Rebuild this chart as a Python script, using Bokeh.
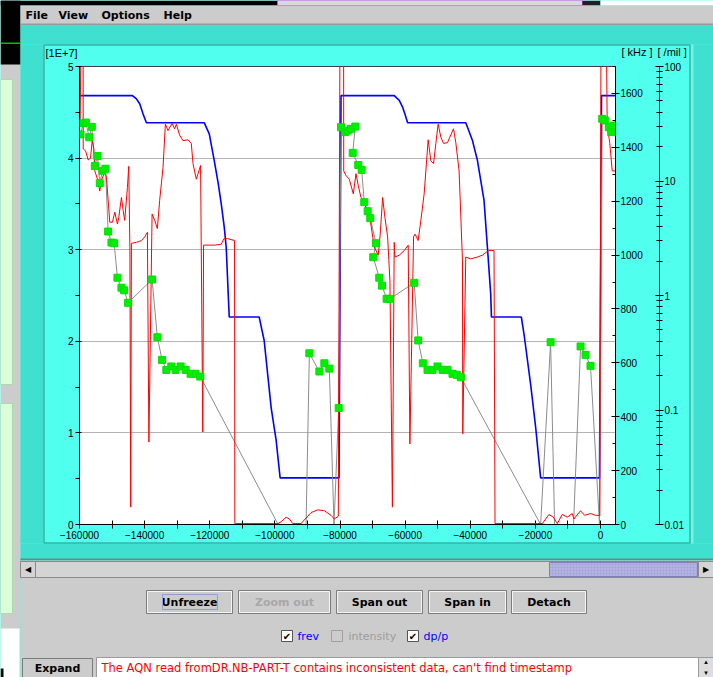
from bokeh.plotting import figure
from bokeh.models import (Range1d, LinearAxis, LogAxis, LogScale, FixedTicker,
                          BoxAnnotation, Label, BasicTickFormatter, CustomJSTickFormatter)
from bokeh.embed import file_html
from bokeh.resources import INLINE

# ---------------- data ----------------
# revolution frequency [kHz] (blue)
frev_t = [-160000, -143750, -142520, -141510, -140470, -139460,
          -121680, -120150, -118620, -117390, -116470, -115550, -114940, -114330, -114020,
          -104820, -103290, -101150, -99610, -98390,
          -80300, -79690,
          -63350, -61810, -60770, -60070, -59240,
          -41380, -39320, -37790, -35770, -34730, -33720, -33500,
          -24310, -23510, -21460, -19920, -18390,
          -310, 310, 4600]
frev_khz = [1592, 1592, 1580, 1562, 1524, 1491,
            1491, 1450, 1351, 1265, 1190, 1104, 1028, 856, 770,
            770, 683, 434, 312, 173,
            173, 1592,
            1592, 1574, 1549, 1524, 1491,
            1491, 1425, 1351, 1203, 1028, 856, 770,
            770, 708, 520, 361, 173,
            173, 1592, 1592]

# intensity [1E+7] (red)
intensity_t = [-159800, -159500, -158900, -158860, -158150, -157330, -156620, -156100, -155610,
               -155300, -154480, -153770, -153250, -152240, -151720, -150710, -149880, -149170,
               -148350, -147950, -147120, -146600, -146110, -145280, -144880, -144520, -144270,
               -144060, -142520, -140990, -139980, -139150, -138690, -137710, -136910, -136090,
               -135380, -134340, -133630, -132810, -131580, -130780, -130260, -129250, -128210,
               -126680, -125670, -125140, -124130, -122820, -122140, -121900, -120550, -118520,
               -116470, -115640, -114420, -112390, -112300, -99090, -98080, -96550, -95540,
               -94490, -92960, -91950, -90720, -88890, -86830, -84810, -82760, -81740, -80520,
               -80000, -78900, -78860, -78160, -77150, -75920, -75090, -74390, -73560, -72550,
               -71720, -70710, -69480, -68260, -67650, -66910, -66200, -65380, -64670, -63910,
               -63350, -63140, -61820, -60290, -59060, -58540, -57410, -56920, -56000, -55170,
               -54160, -52930, -52110, -51280, -50570, -49870, -49040, -48210, -46990, -45150,
               -44440, -43430, -42390, -42300, -41380, -39850, -37790, -36260, -35250, -34240,
               -32700, -32400, -19400, -17870, -15850, -14500, -13270, -11740, -10210, -8670,
               -8180, -6130, -4900, -3070, -1530, -220, 150, 1750, 2050, 2850, 3590, 4600]
intensity_v = [4.35, 5.5, 5.5, 4.10, 4.08, 3.98, 4.00, 4.19, 4.11,
               3.86, 3.77, 3.64, 3.76, 3.85, 3.79, 3.30, 3.30, 3.41,
               3.28, 3.35, 3.57, 3.43, 3.32, 3.68, 3.91, 2.99, 0.19,
               3.07, 3.08, 3.10, 3.14, 3.19, 0.90, 3.39, 3.32, 3.23,
               3.54, 3.90, 4.37, 4.30, 4.38, 4.32, 4.37, 4.25, 4.19,
               4.20, 4.16, 3.94, 3.77, 3.92, 1.01, 3.05, 3.05, 3.05,
               3.06, 3.12, 3.12, 3.10, 0.01, 0.01, 0.03, 0.08, 0.06,
               0.01, 0.01, 0.01, 0.06, 0.13, 0.16, 0.15, 0.10, 0.06, 0.09,
               5.5, 5.5, 3.86, 3.81, 3.77, 3.61, 3.83, 3.70, 3.57, 3.54,
               3.39, 3.32, 3.03, 2.94, 3.17, 3.57, 3.35, 3.14, 2.66, 0.19,
               3.08, 2.92, 2.94, 2.99, 3.05, 0.88, 3.14, 3.17, 3.10, 3.32,
               3.61, 4.20, 3.97, 3.94, 4.16, 4.37, 4.23, 4.16, 4.17, 4.32,
               4.17, 3.86, 2.88, 0.99, 2.92, 2.90, 2.92, 2.94, 2.97, 2.99,
               2.99, 0.01, 0.01, 0.01, 0.11, 0.08, 0.01, 0.11, 0.08, 0.12,
               0.06, 0.15, 0.10, 0.12, 0.10, 0.10, 5.5, 5.5, 4.37, 4.16, 3.86, 3.86]

# momentum spread dp/p [/mil] (grey line, green squares where measured)
dpp_t = [-159700, -158860, -158060, -157020, -156220, -155300, -154480, -153770, -152940,
         -152020, -151200, -150190, -149360, -148350, -147120, -146290, -145070, -137710,
         -136090, -134650, -133330, -131800, -130480, -128950, -127410, -125880, -124350,
         -122910, -99000, -90420, -89410, -86340, -84810, -83280, -81840, -80400,
         -79690, -78460, -77640, -76630, -75310, -76100, -74390, -73350, -72550,
         -71510, -70710, -68960, -69790, -67950, -67120, -65680, -64670, -57220,
         -56000, -54560, -53120, -51580, -50050, -48520, -46990, -45460, -44140,
         -42910, -18390, -15330, -14100, -8280, -6130, -4600, -3070, -310,
         520, 1320, 2540, 3280, 4080]
dpp_mil = [25.5, 32.0, 32.4, 24.1, 29.7, 13.5, 16.5, 9.57, 12.3,
           12.8, 3.62, 2.90, 2.86, 1.43, 1.17, 1.11, 0.863, 1.38,
           0.432, 0.274, 0.224, 0.240, 0.224, 0.240, 0.224, 0.207, 0.207,
           0.196, 0.01, 0.01, 0.313, 0.217, 0.256, 0.230, 0.01, 0.104,
           29.5, 26.7, 27.6, 28.6, 29.9, 17.6, 13.8, 12.5, 6.53,
           5.45, 4.73, 2.86, 2.16, 1.43, 1.22, 0.936, 0.936, 1.29,
           0.405, 0.256, 0.224, 0.224, 0.240, 0.224, 0.224, 0.207, 0.203,
           0.193, 0.01, 0.391, 0.01, 0.01, 0.359, 0.303, 0.243, 0.01,
           34.9, 33.8, 29.5, 26.7, 30.5]
dpp_marked = [1, 1, 1, 1, 1, 1, 1, 1, 1,
              1, 1, 1, 1, 1, 1, 1, 1, 1,
              1, 1, 1, 1, 1, 1, 1, 1, 1,
              1, 0, 0, 1, 1, 1, 1, 0, 1,
              1, 1, 1, 1, 1, 1, 1, 1, 1,
              1, 1, 1, 1, 1, 1, 1, 1, 1,
              1, 1, 1, 1, 1, 1, 1, 1, 1,
              1, 0, 1, 0, 0, 1, 1, 1, 0,
              1, 1, 1, 1, 1]

# axes ticks
x_major = [-160000, -140000, -120000, -100000, -80000, -60000, -40000, -20000, 0]
x_minor = [-150000, -130000, -110000, -90000, -70000, -50000, -30000, -10000]
int_major = [0, 1, 2, 3, 4, 5]
int_minor = [0.5, 1.5, 2.5, 3.5, 4.5]
khz_major = [0, 200, 400, 600, 800, 1000, 1200, 1400, 1600]
khz_minor = [100, 300, 500, 700, 900, 1100, 1300, 1500, 1700]
mil_major = [0.01, 0.1, 1, 10, 100]
mil_minor = [0.02, 0.03, 0.04, 0.05, 0.06, 0.07, 0.08, 0.09,
             0.2, 0.3, 0.4, 0.5, 0.6, 0.7, 0.8, 0.9,
             2, 3, 4, 5, 6, 7, 8, 9,
             20, 30, 40, 50, 60, 70, 80, 90]
unit_labels = ["[1E+7]", "[ kHz ]", "[ /mil ]"]

menu_items = ["File", "View", "Options", "Help"]
buttons = ["Unfreeze", "Zoom out", "Span out", "Span in", "Detach"]
checks = ["frev", "intensity", "dp/p"]
message = "The AQN read fromDR.NB-PART-T contains inconsistent data, can't find timestamp"

# ---------------- layout / style ----------------
W, H = 713, 677
FL, FT, FR, FB = 79, 66, 615, 524
CYAN = "#50ffee"
TURQ = "#40e0d0"
GRAY = "#cccccc"
TICK_FONT = "Liberation Sans"
UI_FONT = "DejaVu Sans"
ABS = {"position": "absolute", "left": "0px", "top": "0px"}

# ======== background figure: the application window around the chart ========
bg = figure(width=W, height=H, min_border=0, x_axis_type=None, y_axis_type=None,
            x_range=Range1d(0, W), y_range=Range1d(H, 0),
            output_backend="svg", toolbar_location=None, tools="",
            background_fill_color=CYAN, border_fill_color=CYAN, outline_line_color=None)
bg.styles = dict(ABS)
bg.grid.visible = False


def box(x0, y0, x1, y1, fill=None, line=None, lw=1, **kw):
    bg.add_layout(BoxAnnotation(left=x0, right=x1, top=y0, bottom=y1,
                                fill_color=fill if fill else "white",
                                fill_alpha=1 if fill else 0,
                                line_color=line if line else "black",
                                line_alpha=1 if line else 0,
                                line_width=lw, **kw))


def text(x, y, s, size="11px", color="black", font=UI_FONT, style="normal", align="left"):
    bg.add_layout(Label(x=x, y=y, text=s,
                        text_font_size=size, text_color=color, text_font=font,
                        text_font_style=style, text_align=align, text_baseline="middle"))


# left strip & top strip (other windows behind this one)
box(0, 0, 20, 677, GRAY)
box(0, 0, 277, 5, "#000000")
box(277, 0, 582, 5, "#d8d8d8", "#e040e0")
box(582, 0, 600, 5, "#202020")
box(600, 0, 713, 5, "#ffffff")
box(0, 0, 20, 64, "#000000")
box(0, 42, 20, 43.5, "#00c000")
box(0, 79, 12, 384, "#d8ffd8", "#b0d8b0")
box(0, 403, 12, 613, "#d8ffd8", "#b0d8b0")
box(0, 628, 19, 677, "#ffffff")
box(0, 668, 3, 677, "#000000")

# menu bar
box(20, 5, 713, 25, GRAY)
box(20, 23, 713, 25, "#9a9a9a")
for name, mx in zip(menu_items, [25, 58, 101, 163]):
    text(mx, 15, name, size="11px", style="bold")

# turquoise ring around the light cyan plot panel
box(20, 25, 713, 44, TURQ)
box(20, 543, 713, 560, TURQ)
box(20, 44, 43, 543, TURQ)
box(690, 44, 713, 543, TURQ)
box(690, 44, 693, 543, "#70f4e6")
box(43.5, 44.5, 689.5, 542.5, None, "#34b4a6", 1.5)
box(20, 558, 713, 560, "#5c8f8a")

# bottom grey area
box(20, 560, 713, 677, GRAY)

# scrollbar
box(20, 561, 713, 577, "#d4d4d4", "#8a8a8a")
box(20, 561, 35, 577, "#d4d4d4", "#8a8a8a")
box(698, 561, 713, 577, "#d4d4d4", "#8a8a8a")
box(549, 562, 697, 576, "#a8a8dc", "#8080b8", hatch_pattern="dot",
    hatch_color="#c8c8f0", hatch_scale=3)
text(27.5, 569, "◀", size="8px", align="center")
text(705.5, 569, "▶", size="8px", align="center")

# buttons
btn_x = [(146, 232), (238, 330), (336, 422), (428, 506), (511, 586)]
for label, (bx0, bx1) in zip(buttons, btn_x):
    box(bx0, 590, bx1, 613, GRAY, "#7c7c7c")
    box(bx0 + 1, 591, bx1 - 1, 612, None, "#f4f4f4")
    col = "#a8a8a8" if label == "Zoom out" else "black"
    text((bx0 + bx1) / 2, 601.5, label, size="11px", color=col, style="bold", align="center")
box(162, 594, 217, 609, None, "#9a9ad2")

# check boxes
chk_x = [281, 331, 407]
chk_lbl_x = [297, 348, 423]
chk_on = [True, False, True]
for label, cx, lx, on in zip(checks, chk_x, chk_lbl_x, chk_on):
    if on:
        box(cx, 630, cx + 11, 641, "#ffffff", "#555555")
        text(cx + 5.5, 635.5, "✔", size="10px", align="center")
    else:
        box(cx, 630, cx + 11, 641, GRAY, "#a0a0a0")
    text(lx, 636, label, size="11px", color="#0000ff" if on else "#9c9c9c")

# status line
box(22, 658, 92, 680, GRAY, "#7c7c7c")
text(57, 668, "Expand", size="11px", style="bold", align="center")
box(96, 657, 698, 680, "#ffffff", "#9a9a9a")
box(698, 657, 713, 677, "#dddddd", "#9a9a9a")
text(705.5, 661.5, "▴", size="7px", align="center")
text(705.5, 672.5, "▾", size="7px", align="center")
text(101, 667, message, size="11.5px", color="#ff0000")

# axis unit labels
for s, ux, uy in zip(unit_labels, [45, 621, 657], [52, 51, 51]):
    text(ux, uy, s, size="11px", font=TICK_FONT)

# ======== the chart itself ========
p = figure(frame_width=FR - FL, frame_height=FB - FT,
           min_border_left=FL, min_border_top=FT,
           min_border_right=W - FR, min_border_bottom=H - FB,
           x_range=Range1d(-160000, 4600), y_range=Range1d(0, 5),
           output_backend="svg", toolbar_location=None, tools="",
           background_fill_color="white", border_fill_alpha=0,
           outline_line_color="#404040", outline_line_width=1)
p.styles = dict(ABS)

p.extra_y_ranges = {"khz": Range1d(0, 1700), "mil": Range1d(0.01, 100)}
p.extra_y_scales = {"mil": LogScale()}


def style_axis(ax, t_in, t_out, m_in, m_out, standoff):
    ax.axis_line_color = "black"
    ax.major_tick_line_color = "black"
    ax.minor_tick_line_color = "black"
    ax.major_tick_in = t_in
    ax.major_tick_out = t_out
    ax.minor_tick_in = m_in
    ax.minor_tick_out = m_out
    ax.major_label_text_font = TICK_FONT
    ax.major_label_text_font_size = "10px"
    ax.major_label_text_color = "black"
    ax.major_label_standoff = standoff


xa = p.xaxis[0]
xa.ticker = FixedTicker(ticks=x_major, minor_ticks=x_minor)
xa.formatter = BasicTickFormatter(use_scientific=False)
style_axis(xa, 4, 4, 4, 4, 2)

ya = p.yaxis[0]
ya.ticker = FixedTicker(ticks=int_major, minor_ticks=int_minor)
style_axis(ya, 2, 4, 0, 4, 2)

p.xgrid.visible = False
p.ygrid.ticker = FixedTicker(ticks=[1, 2, 3, 4])
p.ygrid.grid_line_color = "#b4b4b4"

khz_axis = LinearAxis(y_range_name="khz",
                      ticker=FixedTicker(ticks=khz_major, minor_ticks=khz_minor),
                      axis_label=" ", axis_label_text_font_size="10px", axis_label_standoff=0)
style_axis(khz_axis, 4, 4, 3, 0, 1)
p.add_layout(khz_axis, "right")

mil_axis = LogAxis(y_range_name="mil",
                   ticker=FixedTicker(ticks=mil_major, minor_ticks=mil_minor),
                   formatter=CustomJSTickFormatter(code="return tick.toString()"))
style_axis(mil_axis, 4, 4, 3, 3, 1)
p.add_layout(mil_axis, "right")

p.line(frev_t, frev_khz, y_range_name="khz", line_color="#0000ff", line_width=1.6)
p.line(dpp_t, dpp_mil, y_range_name="mil", line_color="#8c8c8c", line_width=1)
p.line(intensity_t, intensity_v, line_color="#ff0000", line_width=1)
mk_t = [t for t, m in zip(dpp_t, dpp_marked) if m]
mk_v = [v for v, m in zip(dpp_mil, dpp_marked) if m]
p.scatter(mk_t, mk_v, y_range_name="mil", marker="square", size=7,
          fill_color="#00ee00", line_color="#00e000")

open("out.html", "w").write(file_html([bg, p], INLINE))
